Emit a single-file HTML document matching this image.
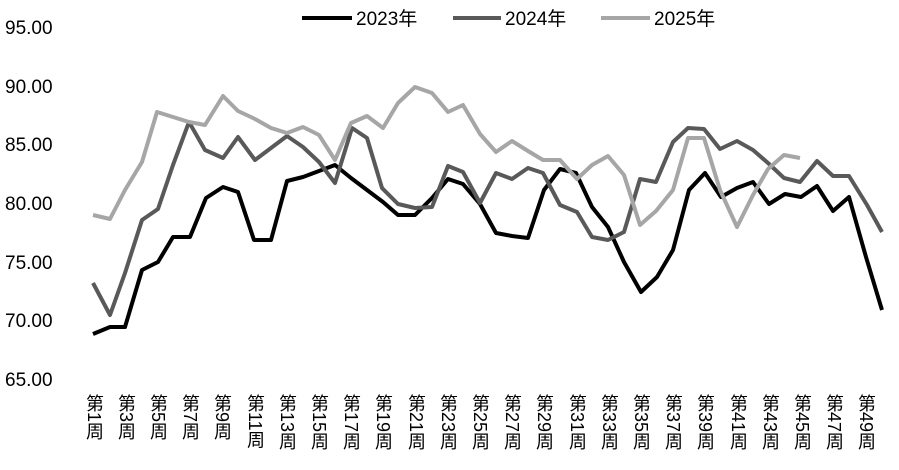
<!DOCTYPE html>
<html><head><meta charset="utf-8"><style>
body{margin:0;background:#fff;width:899px;height:470px;overflow:hidden;font-family:"Liberation Sans","Noto Sans CJK SC",sans-serif}
.xl{position:absolute;top:394px;writing-mode:vertical-rl;font-size:18px;color:#000;line-height:18px}
</style></head><body>
<svg width="899" height="470" style="position:absolute;left:0;top:0" font-family="Liberation Sans, Noto Sans CJK SC, sans-serif">
<g font-size="19" fill="#000">
<text x="5" y="34">95.00</text>
<text x="5" y="93">90.00</text>
<text x="5" y="151">85.00</text>
<text x="5" y="210">80.00</text>
<text x="5" y="269">75.00</text>
<text x="5" y="327">70.00</text>
<text x="5" y="386">65.00</text>
</g>
<g fill="none" stroke-width="4" stroke-linejoin="round">
<polyline stroke="#000" points="93,334 110,327 125,327 142,270 158,262 173,237 190,237 206,198 223,187 238,192 254,240 271,240 287,181 303,177 319,171 335,165 351,178 367,190 383,202 398,215 415,215 432,198 448,179 463,184 480,204 496,233 512,236 528,238 544,190 560,169 576,173 592,207 608,227 624,262 641,292 657,277 673,250 689,190 705,173 721,197 737,188 753,182 769,204 785,194 801,197 817,186 833,211 849,197 866,257 882,310"/>
<polyline stroke="#595959" points="93,283 110,315 125,273 142,220 158,209 173,165 189,122 205,150 223,158 238,137 255,160 271,148 287,136 303,147 319,162 335,183 352,128 367,138 382,188 398,204 415,208 432,207 448,166 463,172 480,203 496,173 512,179 528,168 543,173 560,205 577,212 592,237 608,240 624,232 640,179 656,182 673,142 688,128 704,129 720,149 737,141 753,150 768,163 784,178 800,182 817,161 833,176 849,176 867,205 882,232"/>
<polyline stroke="#a6a6a6" points="93,215 110,219 125,190 142,162 157,112 173,117 189,122 205,125 223,96 238,111 255,119 271,128 287,133 303,127 319,135 335,160 351,123 367,116 383,128 398,103 415,87 432,93 448,112 463,105 480,134 496,152 512,141 528,151 543,160 560,160 577,179 592,165 608,156 624,175 640,225 656,211 673,190 688,138 704,138 720,190 737,227 753,195 768,169 784,155 800,158"/>
</g>
<g stroke-width="4">
<line x1="302" y1="18" x2="352" y2="18" stroke="#000"/>
<line x1="453" y1="18" x2="501" y2="18" stroke="#595959"/>
<line x1="601" y1="18" x2="650" y2="18" stroke="#a6a6a6"/>
</g>
<g font-size="19" fill="#000">
<text x="356" y="25">2023年</text>
<text x="505" y="25">2024年</text>
<text x="654" y="25">2025年</text>
</g>
</svg>
<div class="xl" style="left:85px">第1周</div>
<div class="xl" style="left:117px">第3周</div>
<div class="xl" style="left:149px">第5周</div>
<div class="xl" style="left:181px">第7周</div>
<div class="xl" style="left:213px">第9周</div>
<div class="xl" style="left:246px">第11周</div>
<div class="xl" style="left:278px">第13周</div>
<div class="xl" style="left:310px">第15周</div>
<div class="xl" style="left:342px">第17周</div>
<div class="xl" style="left:374px">第19周</div>
<div class="xl" style="left:407px">第21周</div>
<div class="xl" style="left:439px">第23周</div>
<div class="xl" style="left:471px">第25周</div>
<div class="xl" style="left:503px">第27周</div>
<div class="xl" style="left:535px">第29周</div>
<div class="xl" style="left:568px">第31周</div>
<div class="xl" style="left:600px">第33周</div>
<div class="xl" style="left:632px">第35周</div>
<div class="xl" style="left:664px">第37周</div>
<div class="xl" style="left:696px">第39周</div>
<div class="xl" style="left:729px">第41周</div>
<div class="xl" style="left:761px">第43周</div>
<div class="xl" style="left:793px">第45周</div>
<div class="xl" style="left:825px">第47周</div>
<div class="xl" style="left:857px">第49周</div>
</body></html>
